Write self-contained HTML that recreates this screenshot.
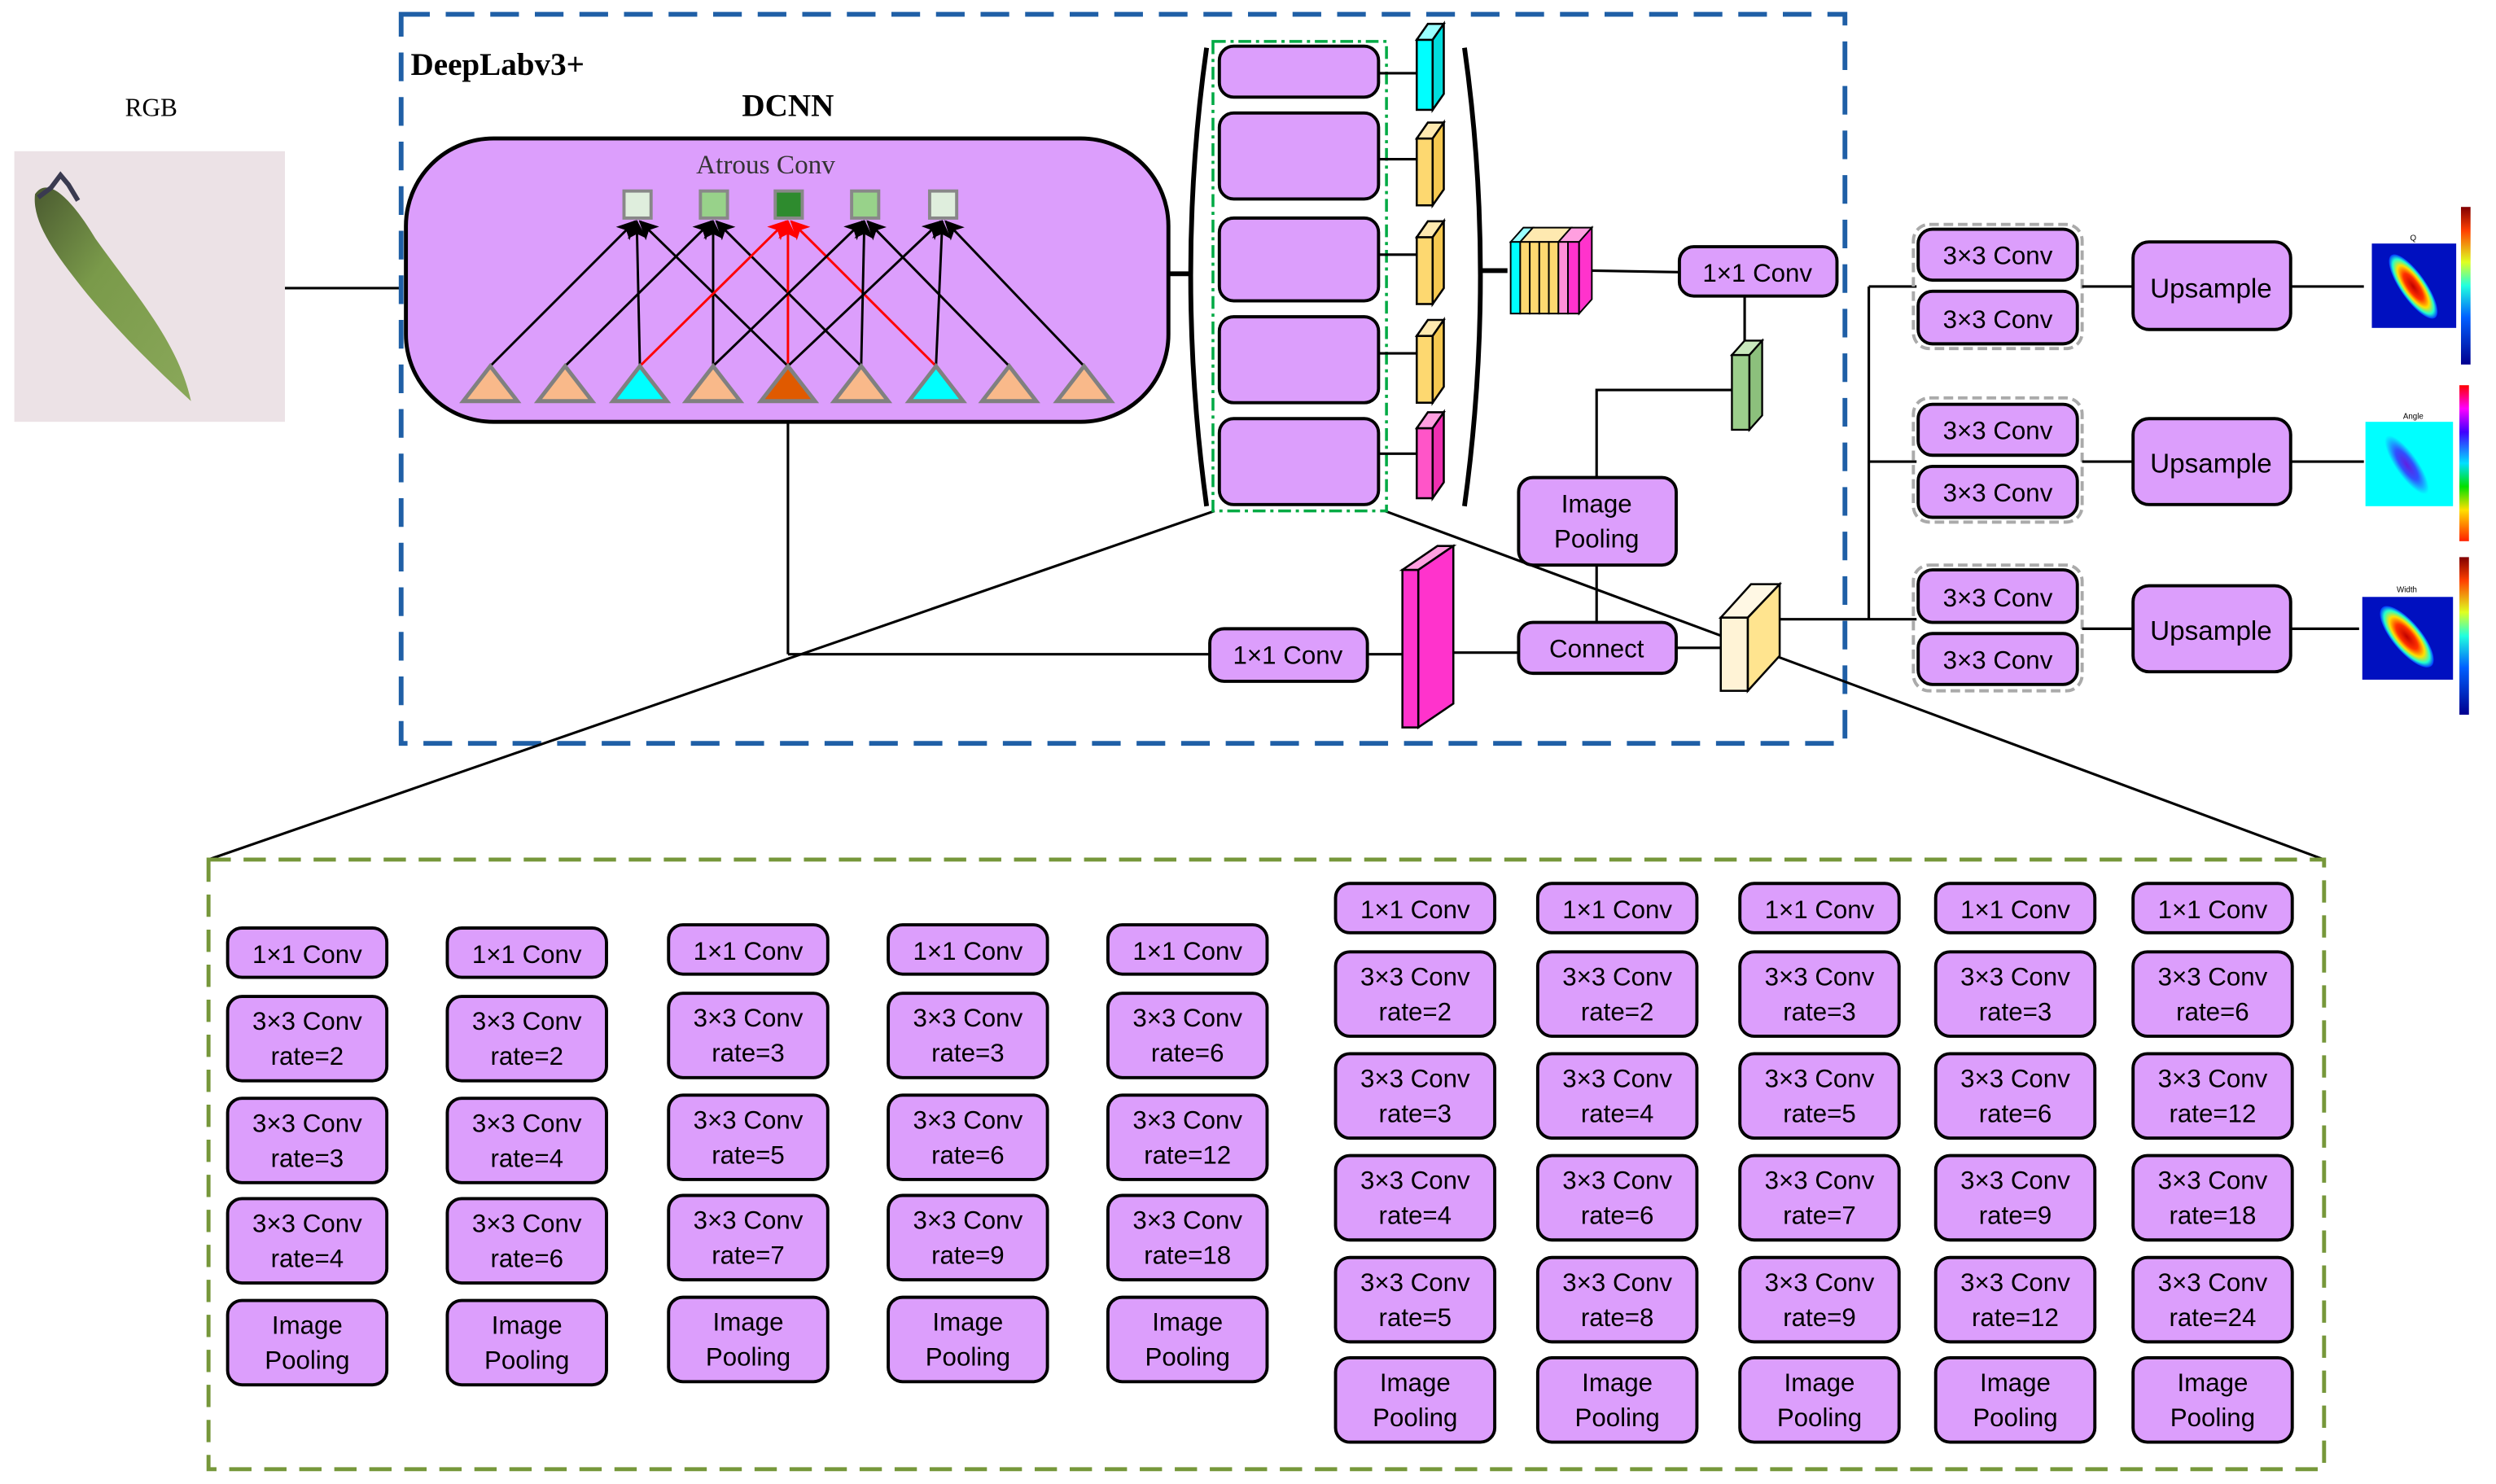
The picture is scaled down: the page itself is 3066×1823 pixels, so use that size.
<!DOCTYPE html>
<html><head><meta charset="utf-8"><style>
html,body{margin:0;padding:0;background:#fff}
svg{display:block}
.t{font-family:"Liberation Sans Narrow","Liberation Sans",sans-serif;font-size:16px;text-anchor:middle;fill:#000}
.b{fill:#dc9efc;stroke:#000;stroke-width:2}
.l{stroke:#000;stroke-width:1.6;fill:none}
</style></head><body>
<svg width="3066" height="1823" viewBox="0 0 1568 932.3" preserveAspectRatio="none" xmlns="http://www.w3.org/2000/svg">
<defs>
<marker id="ak" markerWidth="12" markerHeight="12" refX="11" refY="6" orient="auto" markerUnits="userSpaceOnUse"><path d="M0,0 L12,6 L0,12 L3,6 z" fill="#000"/></marker>
<marker id="ar" markerWidth="12" markerHeight="12" refX="11" refY="6" orient="auto" markerUnits="userSpaceOnUse"><path d="M0,0 L12,6 L0,12 L3,6 z" fill="#f00"/></marker>
<linearGradient id="leaf" x1="0" y1="0" x2="1" y2="1"><stop offset="0" stop-color="#4a5a30"/><stop offset="0.4" stop-color="#7a9a4a"/><stop offset="1" stop-color="#8aa85a"/></linearGradient>
<linearGradient id="cb1" x1="0" y1="1" x2="0" y2="0"><stop offset="0" stop-color="#00008f"/><stop offset="0.3" stop-color="#0060ff"/><stop offset="0.5" stop-color="#20ffdf"/><stop offset="0.65" stop-color="#dfff20"/><stop offset="0.85" stop-color="#ff4000"/><stop offset="1" stop-color="#800000"/></linearGradient>
<linearGradient id="cb2" x1="0" y1="1" x2="0" y2="0"><stop offset="0" stop-color="#ff2000"/><stop offset="0.2" stop-color="#ffe000"/><stop offset="0.35" stop-color="#00e000"/><stop offset="0.5" stop-color="#00e0ff"/><stop offset="0.7" stop-color="#4000ff"/><stop offset="0.85" stop-color="#ff00ff"/><stop offset="1" stop-color="#ff0000"/></linearGradient>
<radialGradient id="hot" cx="0.5" cy="0.5" r="0.5"><stop offset="0" stop-color="#c00000"/><stop offset="0.4" stop-color="#ff3000"/><stop offset="0.65" stop-color="#ffe000"/><stop offset="0.85" stop-color="#20ffd0"/><stop offset="1" stop-color="#0030ff"/></radialGradient>
<radialGradient id="ang" cx="0.5" cy="0.5" r="0.5"><stop offset="0" stop-color="#6020e0"/><stop offset="0.5" stop-color="#3050ff"/><stop offset="1" stop-color="#00ffff"/></radialGradient>
</defs>

<text x="95" y="73" style="font-family:'Liberation Serif',serif;font-size:16px;text-anchor:middle">RGB</text>
<rect x="9" y="95" width="170" height="170" fill="#ece2e6"/>
<path d="M22,122 C30,110 45,125 60,150 C85,185 112,215 120,252 C105,238 80,215 55,185 C35,160 20,140 22,122 z" fill="url(#leaf)"/>
<path d="M24,124 l8,-6 l6,-8 l5,6 l6,10" stroke="#3a3a50" stroke-width="3" fill="none"/>
<line class="l" x1="179" y1="181" x2="253" y2="181"/>

<rect x="252" y="9" width="907" height="458" fill="none" stroke="#1f5fa6" stroke-width="3" stroke-dasharray="18,10"/>
<text x="258" y="47" style="font-family:'Liberation Serif',serif;font-weight:bold;font-size:20px">DeepLabv3+</text>
<text x="495" y="73" style="font-family:'Liberation Serif',serif;font-weight:bold;font-size:20px;text-anchor:middle">DCNN</text>

<rect x="255" y="87" width="479" height="178" rx="55" class="b" style="stroke-width:2.5"/>
<text x="481" y="109" style="font-family:'Liberation Sans Narrow','Liberation Serif',serif;font-size:17px;text-anchor:middle;fill:#333">Atrous Conv</text>
<g stroke="#888" stroke-width="2">
<rect x="392" y="120" width="17" height="17" fill="#dfeedd"/>
<rect x="440" y="120" width="17" height="17" fill="#98d28a"/>
<rect x="487" y="120" width="17" height="17" fill="#2e8b2e"/>
<rect x="535" y="120" width="17" height="17" fill="#98d28a"/>
<rect x="584" y="120" width="17" height="17" fill="#dfeedd"/>
</g>
<g stroke-width="1.5" fill="none">
<line x1="308" y1="230" x2="399" y2="139" stroke="#000" marker-end="url(#ak)"/>
<line x1="402" y1="230" x2="400" y2="139" stroke="#000" marker-end="url(#ak)"/>
<line x1="495" y1="230" x2="402" y2="139" stroke="#000" marker-end="url(#ak)"/>
<line x1="355" y1="230" x2="447" y2="139" stroke="#000" marker-end="url(#ak)"/>
<line x1="448" y1="230" x2="448" y2="139" stroke="#000" marker-end="url(#ak)"/>
<line x1="541" y1="230" x2="450" y2="139" stroke="#000" marker-end="url(#ak)"/>
<line x1="402" y1="230" x2="494" y2="139" stroke="#f00" marker-end="url(#ar)"/>
<line x1="495" y1="230" x2="495" y2="139" stroke="#f00" marker-end="url(#ar)"/>
<line x1="588" y1="230" x2="497" y2="139" stroke="#f00" marker-end="url(#ar)"/>
<line x1="448" y1="230" x2="542" y2="139" stroke="#000" marker-end="url(#ak)"/>
<line x1="541" y1="230" x2="543" y2="139" stroke="#000" marker-end="url(#ak)"/>
<line x1="634" y1="230" x2="545" y2="139" stroke="#000" marker-end="url(#ak)"/>
<line x1="495" y1="230" x2="591" y2="139" stroke="#000" marker-end="url(#ak)"/>
<line x1="588" y1="230" x2="592" y2="139" stroke="#000" marker-end="url(#ak)"/>
<line x1="681" y1="230" x2="594" y2="139" stroke="#000" marker-end="url(#ak)"/>
</g>
<g stroke="#808080" stroke-width="2.5">
<path d="M308,230 L291,252 L325,252 z" fill="#f9b98a"/>
<path d="M355,230 L338,252 L372,252 z" fill="#f9b98a"/>
<path d="M402,230 L385,252 L419,252 z" fill="#00ffff"/>
<path d="M448,230 L431,252 L465,252 z" fill="#f9b98a"/>
<path d="M495,230 L478,252 L512,252 z" fill="#e05a00"/>
<path d="M541,230 L524,252 L558,252 z" fill="#f9b98a"/>
<path d="M588,230 L571,252 L605,252 z" fill="#00ffff"/>
<path d="M634,230 L617,252 L651,252 z" fill="#f9b98a"/>
<path d="M681,230 L664,252 L698,252 z" fill="#f9b98a"/>
</g>

<line class="l" x1="495" y1="265" x2="495" y2="411"/>
<line class="l" x1="495" y1="411" x2="760" y2="411"/>
<line class="l" x1="763" y1="321" x2="131" y2="540"/>
<line class="l" x1="870" y1="321" x2="1460" y2="540"/>
<line x1="734" y1="172" x2="748" y2="172" stroke="#000" stroke-width="3"/>

<path d="M758,30 Q738,172 758,318" stroke="#000" stroke-width="3" fill="none"/>
<path d="M920,30 Q940,172 920,318" stroke="#000" stroke-width="3" fill="none"/>
<rect x="762" y="26" width="109" height="295" fill="none" stroke="#00aa44" stroke-width="1.8" stroke-dasharray="8,3,2,3"/>
<rect x="766" y="29" width="100" height="32" rx="9" class="b"/>
<rect x="766" y="71" width="100" height="54" rx="9" class="b"/>
<rect x="766" y="137" width="100" height="52" rx="9" class="b"/>
<rect x="766" y="199" width="100" height="54" rx="9" class="b"/>
<rect x="766" y="263" width="100" height="54" rx="9" class="b"/>
<g class="l">
<line x1="866" y1="46" x2="890" y2="46"/><line x1="866" y1="100" x2="890" y2="100"/><line x1="866" y1="160" x2="890" y2="160"/><line x1="866" y1="222" x2="890" y2="222"/><line x1="866" y1="285" x2="890" y2="285"/>
</g>
<g stroke="#000" stroke-width="1.3">
<rect x="890" y="25" width="10" height="44" fill="#00ffff"/><path d="M890,25 L897,15 L907,15 L900,25 z" fill="#9ff"/><path d="M900,25 L907,15 L907,59 L900,69 z" fill="#0dd"/>
<rect x="890" y="87" width="10" height="42" fill="#fdd870"/><path d="M890,87 L897,77 L907,77 L900,87 z" fill="#fee9b0"/><path d="M900,87 L907,77 L907,119 L900,129 z" fill="#f5c850"/>
<rect x="890" y="149" width="10" height="42" fill="#fdd870"/><path d="M890,149 L897,139 L907,139 L900,149 z" fill="#fee9b0"/><path d="M900,149 L907,139 L907,181 L900,191 z" fill="#f5c850"/>
<rect x="890" y="211" width="10" height="42" fill="#fdd870"/><path d="M890,211 L897,201 L907,201 L900,211 z" fill="#fee9b0"/><path d="M900,211 L907,201 L907,243 L900,253 z" fill="#f5c850"/>
<rect x="890" y="269" width="10" height="44" fill="#ff55c8"/><path d="M890,269 L897,259 L907,259 L900,269 z" fill="#ff9fe0"/><path d="M900,269 L907,259 L907,303 L900,313 z" fill="#ee2fb0"/>
</g>
<line x1="930" y1="170" x2="947" y2="170" stroke="#000" stroke-width="3"/>
<g stroke="#000" stroke-width="1">
<path d="M949,152 L957,143 L963,143 L955,152 z" fill="#9ff"/>
<path d="M955,152 L963,143 L987,143 L979,152 z" fill="#fee9b0"/>
<path d="M979,152 L987,143 L1000,143 L992,152 z" fill="#ff9fe0"/>
<rect x="949" y="152" width="6" height="45" fill="#00ffff"/>
<rect x="955" y="152" width="6" height="45" fill="#fdd870"/>
<rect x="961" y="152" width="6" height="45" fill="#fdd870"/>
<rect x="967" y="152" width="6" height="45" fill="#fdd870"/>
<rect x="973" y="152" width="6" height="45" fill="#fdd870"/>
<rect x="979" y="152" width="6" height="45" fill="#ff8fd8"/>
<rect x="985" y="152" width="7" height="45" fill="#ff33cc"/>
<path d="M992,152 L1000,143 L1000,188 L992,197 z" fill="#ff33cc"/>
</g>
<line class="l" x1="1000" y1="170" x2="1055" y2="171"/>
<rect x="1055" y="155" width="99" height="31" rx="9" class="b"/>
<text class="t" x="1104" y="177">1×1 Conv</text>
<line class="l" x1="1096" y1="186" x2="1096" y2="215"/>
<g stroke="#000" stroke-width="1.2">
<rect x="1088" y="223" width="11" height="47" fill="#9ccf8c"/><path d="M1088,223 L1096,214 L1107,214 L1099,223 z" fill="#c8e8bc"/><path d="M1099,223 L1107,214 L1107,261 L1099,270 z" fill="#8cc07c"/>
</g>
<polyline class="l" points="1088,245 1003,245 1003,300"/>
<rect x="954" y="300" width="99" height="55" rx="9" class="b"/>
<text class="t" x="1003" y="322">Image</text><text class="t" x="1003" y="344">Pooling</text>
<line class="l" x1="1003" y1="355" x2="1003" y2="391"/>
<rect x="954" y="391" width="99" height="32" rx="9" class="b"/>
<text class="t" x="1003" y="413">Connect</text>
<rect x="760" y="395" width="99" height="33" rx="9" class="b"/>
<text class="t" x="809" y="417">1×1 Conv</text>
<line class="l" x1="859" y1="411" x2="881" y2="411"/>
<g stroke="#000" stroke-width="1.3">
<rect x="881" y="358" width="10" height="99" fill="#ff33cc"/>
<path d="M881,358 L903,343 L913,343 L891,358 z" fill="#ff9fe0"/>
<path d="M891,358 L913,343 L913,442 L891,457 z" fill="#ff33cc"/>
</g>
<line class="l" x1="913" y1="410" x2="954" y2="410"/>
<line class="l" x1="1053" y1="407" x2="1081" y2="407"/>
<g stroke="#000" stroke-width="1.3">
<rect x="1081" y="388" width="17" height="46" fill="#fff3d6"/>
<path d="M1081,388 L1100,367 L1118,367 L1098,388 z" fill="#fff8e4"/>
<path d="M1098,388 L1118,367 L1118,412 L1098,434 z" fill="#ffe48f"/>
</g>
<line class="l" x1="1118" y1="389" x2="1204" y2="389"/>
<line class="l" x1="1174" y1="180" x2="1174" y2="389"/>
<line class="l" x1="1174" y1="180" x2="1204" y2="180"/>
<line class="l" x1="1174" y1="290" x2="1204" y2="290"/>

<g>
<rect x="1202" y="141" width="106" height="78" rx="10" fill="none" stroke="#aaa" stroke-width="2" stroke-dasharray="6,3"/>
<rect x="1205" y="144" width="100" height="32" rx="9" class="b"/><text class="t" x="1255" y="166">3×3 Conv</text>
<rect x="1205" y="183" width="100" height="33" rx="9" class="b"/><text class="t" x="1255" y="206">3×3 Conv</text>
<rect x="1202" y="250" width="106" height="78" rx="10" fill="none" stroke="#aaa" stroke-width="2" stroke-dasharray="6,3"/>
<rect x="1205" y="254" width="100" height="32" rx="9" class="b"/><text class="t" x="1255" y="276">3×3 Conv</text>
<rect x="1205" y="293" width="100" height="32" rx="9" class="b"/><text class="t" x="1255" y="315">3×3 Conv</text>
<rect x="1202" y="355" width="106" height="79" rx="10" fill="none" stroke="#aaa" stroke-width="2" stroke-dasharray="6,3"/>
<rect x="1205" y="358" width="100" height="33" rx="9" class="b"/><text class="t" x="1255" y="381">3×3 Conv</text>
<rect x="1205" y="398" width="100" height="32" rx="9" class="b"/><text class="t" x="1255" y="420">3×3 Conv</text>
</g>
<g class="l">
<line x1="1308" y1="180" x2="1340" y2="180"/><line x1="1308" y1="290" x2="1340" y2="290"/><line x1="1308" y1="395" x2="1340" y2="395"/>
<line x1="1439" y1="180" x2="1485" y2="180"/><line x1="1439" y1="290" x2="1485" y2="290"/><line x1="1439" y1="395" x2="1482" y2="395"/>
</g>
<rect x="1340" y="152" width="99" height="55" rx="10" class="b"/><text class="t" x="1389" y="187" style="font-size:17px">Upsample</text>
<rect x="1340" y="263" width="99" height="54" rx="10" class="b"/><text class="t" x="1389" y="297" style="font-size:17px">Upsample</text>
<rect x="1340" y="368" width="99" height="54" rx="10" class="b"/><text class="t" x="1389" y="402" style="font-size:17px">Upsample</text>

<text x="1516" y="151" style="font-family:'Liberation Sans',sans-serif;font-size:5px;text-anchor:middle">Q</text>
<rect x="1490" y="153" width="53" height="53" fill="#0010c0"/>
<ellipse cx="1516" cy="180" rx="8" ry="24" transform="rotate(-35 1516 180)" fill="url(#hot)"/>
<rect x="1546" y="130" width="6" height="99" fill="url(#cb1)"/>
<text x="1516" y="263" style="font-family:'Liberation Sans',sans-serif;font-size:5px;text-anchor:middle">Angle</text>
<rect x="1486" y="265" width="55" height="53" fill="#00ffff"/>
<ellipse cx="1512" cy="292" rx="7" ry="22" transform="rotate(-35 1512 292)" fill="url(#ang)"/>
<rect x="1545" y="242" width="6" height="98" fill="url(#cb2)"/>
<text x="1512" y="372" style="font-family:'Liberation Sans',sans-serif;font-size:5px;text-anchor:middle">Width</text>
<rect x="1484" y="375" width="57" height="52" fill="#0010c0"/>
<ellipse cx="1512" cy="400" rx="9" ry="24" transform="rotate(-40 1512 400)" fill="url(#hot)"/>
<rect x="1545" y="350" width="6" height="99" fill="url(#cb1)"/>

<rect x="131" y="540" width="1329" height="383" fill="none" stroke="#76973a" stroke-width="2.5" stroke-dasharray="14,8"/>

<g>
<rect x="143" y="583" width="100" height="31" rx="9" class="b"/><text class="t" x="193" y="605">1×1 Conv</text>
<rect x="143" y="626" width="100" height="53" rx="9" class="b"/><text class="t" x="193" y="647">3×3 Conv</text><text class="t" x="193" y="669">rate=2</text>
<rect x="143" y="690" width="100" height="53" rx="9" class="b"/><text class="t" x="193" y="711">3×3 Conv</text><text class="t" x="193" y="733">rate=3</text>
<rect x="143" y="753" width="100" height="53" rx="9" class="b"/><text class="t" x="193" y="774">3×3 Conv</text><text class="t" x="193" y="796">rate=4</text>
<rect x="143" y="817" width="100" height="53" rx="9" class="b"/><text class="t" x="193" y="838">Image</text><text class="t" x="193" y="860">Pooling</text>

<rect x="281" y="583" width="100" height="31" rx="9" class="b"/><text class="t" x="331" y="605">1×1 Conv</text>
<rect x="281" y="626" width="100" height="53" rx="9" class="b"/><text class="t" x="331" y="647">3×3 Conv</text><text class="t" x="331" y="669">rate=2</text>
<rect x="281" y="690" width="100" height="53" rx="9" class="b"/><text class="t" x="331" y="711">3×3 Conv</text><text class="t" x="331" y="733">rate=4</text>
<rect x="281" y="753" width="100" height="53" rx="9" class="b"/><text class="t" x="331" y="774">3×3 Conv</text><text class="t" x="331" y="796">rate=6</text>
<rect x="281" y="817" width="100" height="53" rx="9" class="b"/><text class="t" x="331" y="838">Image</text><text class="t" x="331" y="860">Pooling</text>

<rect x="420" y="581" width="100" height="31" rx="9" class="b"/><text class="t" x="470" y="603">1×1 Conv</text>
<rect x="420" y="624" width="100" height="53" rx="9" class="b"/><text class="t" x="470" y="645">3×3 Conv</text><text class="t" x="470" y="667">rate=3</text>
<rect x="420" y="688" width="100" height="53" rx="9" class="b"/><text class="t" x="470" y="709">3×3 Conv</text><text class="t" x="470" y="731">rate=5</text>
<rect x="420" y="751" width="100" height="53" rx="9" class="b"/><text class="t" x="470" y="772">3×3 Conv</text><text class="t" x="470" y="794">rate=7</text>
<rect x="420" y="815" width="100" height="53" rx="9" class="b"/><text class="t" x="470" y="836">Image</text><text class="t" x="470" y="858">Pooling</text>

<rect x="558" y="581" width="100" height="31" rx="9" class="b"/><text class="t" x="608" y="603">1×1 Conv</text>
<rect x="558" y="624" width="100" height="53" rx="9" class="b"/><text class="t" x="608" y="645">3×3 Conv</text><text class="t" x="608" y="667">rate=3</text>
<rect x="558" y="688" width="100" height="53" rx="9" class="b"/><text class="t" x="608" y="709">3×3 Conv</text><text class="t" x="608" y="731">rate=6</text>
<rect x="558" y="751" width="100" height="53" rx="9" class="b"/><text class="t" x="608" y="772">3×3 Conv</text><text class="t" x="608" y="794">rate=9</text>
<rect x="558" y="815" width="100" height="53" rx="9" class="b"/><text class="t" x="608" y="836">Image</text><text class="t" x="608" y="858">Pooling</text>

<rect x="696" y="581" width="100" height="31" rx="9" class="b"/><text class="t" x="746" y="603">1×1 Conv</text>
<rect x="696" y="624" width="100" height="53" rx="9" class="b"/><text class="t" x="746" y="645">3×3 Conv</text><text class="t" x="746" y="667">rate=6</text>
<rect x="696" y="688" width="100" height="53" rx="9" class="b"/><text class="t" x="746" y="709">3×3 Conv</text><text class="t" x="746" y="731">rate=12</text>
<rect x="696" y="751" width="100" height="53" rx="9" class="b"/><text class="t" x="746" y="772">3×3 Conv</text><text class="t" x="746" y="794">rate=18</text>
<rect x="696" y="815" width="100" height="53" rx="9" class="b"/><text class="t" x="746" y="836">Image</text><text class="t" x="746" y="858">Pooling</text>
</g>

<g>
<rect x="839" y="555" width="100" height="31" rx="9" class="b"/><text class="t" x="889" y="577">1×1 Conv</text>
<rect x="839" y="598" width="100" height="53" rx="9" class="b"/><text class="t" x="889" y="619">3×3 Conv</text><text class="t" x="889" y="641">rate=2</text>
<rect x="839" y="662" width="100" height="53" rx="9" class="b"/><text class="t" x="889" y="683">3×3 Conv</text><text class="t" x="889" y="705">rate=3</text>
<rect x="839" y="726" width="100" height="53" rx="9" class="b"/><text class="t" x="889" y="747">3×3 Conv</text><text class="t" x="889" y="769">rate=4</text>
<rect x="839" y="790" width="100" height="53" rx="9" class="b"/><text class="t" x="889" y="811">3×3 Conv</text><text class="t" x="889" y="833">rate=5</text>
<rect x="839" y="853" width="100" height="53" rx="9" class="b"/><text class="t" x="889" y="874">Image</text><text class="t" x="889" y="896">Pooling</text>

<rect x="966" y="555" width="100" height="31" rx="9" class="b"/><text class="t" x="1016" y="577">1×1 Conv</text>
<rect x="966" y="598" width="100" height="53" rx="9" class="b"/><text class="t" x="1016" y="619">3×3 Conv</text><text class="t" x="1016" y="641">rate=2</text>
<rect x="966" y="662" width="100" height="53" rx="9" class="b"/><text class="t" x="1016" y="683">3×3 Conv</text><text class="t" x="1016" y="705">rate=4</text>
<rect x="966" y="726" width="100" height="53" rx="9" class="b"/><text class="t" x="1016" y="747">3×3 Conv</text><text class="t" x="1016" y="769">rate=6</text>
<rect x="966" y="790" width="100" height="53" rx="9" class="b"/><text class="t" x="1016" y="811">3×3 Conv</text><text class="t" x="1016" y="833">rate=8</text>
<rect x="966" y="853" width="100" height="53" rx="9" class="b"/><text class="t" x="1016" y="874">Image</text><text class="t" x="1016" y="896">Pooling</text>

<rect x="1093" y="555" width="100" height="31" rx="9" class="b"/><text class="t" x="1143" y="577">1×1 Conv</text>
<rect x="1093" y="598" width="100" height="53" rx="9" class="b"/><text class="t" x="1143" y="619">3×3 Conv</text><text class="t" x="1143" y="641">rate=3</text>
<rect x="1093" y="662" width="100" height="53" rx="9" class="b"/><text class="t" x="1143" y="683">3×3 Conv</text><text class="t" x="1143" y="705">rate=5</text>
<rect x="1093" y="726" width="100" height="53" rx="9" class="b"/><text class="t" x="1143" y="747">3×3 Conv</text><text class="t" x="1143" y="769">rate=7</text>
<rect x="1093" y="790" width="100" height="53" rx="9" class="b"/><text class="t" x="1143" y="811">3×3 Conv</text><text class="t" x="1143" y="833">rate=9</text>
<rect x="1093" y="853" width="100" height="53" rx="9" class="b"/><text class="t" x="1143" y="874">Image</text><text class="t" x="1143" y="896">Pooling</text>

<rect x="1216" y="555" width="100" height="31" rx="9" class="b"/><text class="t" x="1266" y="577">1×1 Conv</text>
<rect x="1216" y="598" width="100" height="53" rx="9" class="b"/><text class="t" x="1266" y="619">3×3 Conv</text><text class="t" x="1266" y="641">rate=3</text>
<rect x="1216" y="662" width="100" height="53" rx="9" class="b"/><text class="t" x="1266" y="683">3×3 Conv</text><text class="t" x="1266" y="705">rate=6</text>
<rect x="1216" y="726" width="100" height="53" rx="9" class="b"/><text class="t" x="1266" y="747">3×3 Conv</text><text class="t" x="1266" y="769">rate=9</text>
<rect x="1216" y="790" width="100" height="53" rx="9" class="b"/><text class="t" x="1266" y="811">3×3 Conv</text><text class="t" x="1266" y="833">rate=12</text>
<rect x="1216" y="853" width="100" height="53" rx="9" class="b"/><text class="t" x="1266" y="874">Image</text><text class="t" x="1266" y="896">Pooling</text>

<rect x="1340" y="555" width="100" height="31" rx="9" class="b"/><text class="t" x="1390" y="577">1×1 Conv</text>
<rect x="1340" y="598" width="100" height="53" rx="9" class="b"/><text class="t" x="1390" y="619">3×3 Conv</text><text class="t" x="1390" y="641">rate=6</text>
<rect x="1340" y="662" width="100" height="53" rx="9" class="b"/><text class="t" x="1390" y="683">3×3 Conv</text><text class="t" x="1390" y="705">rate=12</text>
<rect x="1340" y="726" width="100" height="53" rx="9" class="b"/><text class="t" x="1390" y="747">3×3 Conv</text><text class="t" x="1390" y="769">rate=18</text>
<rect x="1340" y="790" width="100" height="53" rx="9" class="b"/><text class="t" x="1390" y="811">3×3 Conv</text><text class="t" x="1390" y="833">rate=24</text>
<rect x="1340" y="853" width="100" height="53" rx="9" class="b"/><text class="t" x="1390" y="874">Image</text><text class="t" x="1390" y="896">Pooling</text>
</g>
</svg>
</body></html>
